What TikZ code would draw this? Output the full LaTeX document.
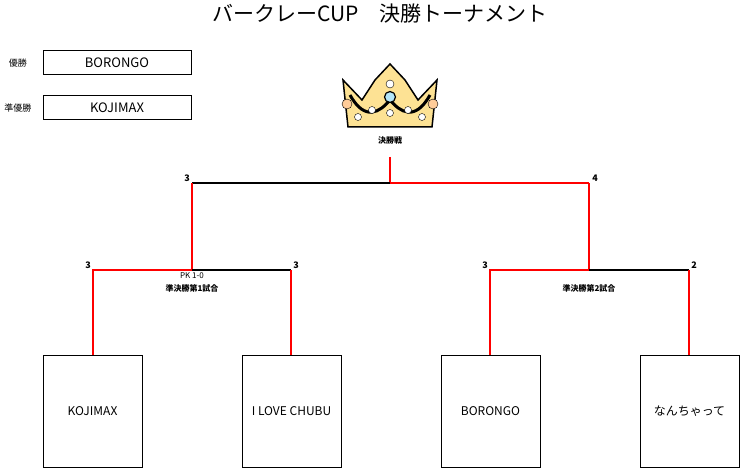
\documentclass[tikz,border=0pt]{standalone}
\usepackage{fontspec}
\setmainfont{Noto Sans CJK JP}
\begin{document}
\begin{tikzpicture}[x=1pt,y=-1pt,
  win/.style={draw=red,line width=1.2pt},
  lose/.style={draw=black,line width=1.2pt},
  team/.style={draw,line width=1pt,minimum width=99pt,minimum height=112pt,inner sep=0pt,font=\fontsize{12}{14}\selectfont},
  res/.style={draw,line width=1pt,minimum width=148pt,minimum height=24pt,inner sep=0pt,font=\fontsize{13}{15}\selectfont},
  sc/.style={font=\fontsize{9}{10}\selectfont\bfseries,inner sep=1pt,anchor=south},
  lab/.style={font=\fontsize{8}{9}\selectfont\bfseries,inner sep=0pt}]
\useasboundingbox (0,0) rectangle (753,468);
\node[font=\fontsize{21}{24}\selectfont] (title) at (380,14) {バークレーCUP\quad 決勝トーナメント};
\node[font=\fontsize{9}{10}\selectfont,inner sep=0pt] (l1) at (18,63) {優勝};
\node[font=\fontsize{9}{10}\selectfont,inner sep=0pt] (l2) at (18,108) {準優勝};
\node[res] (r1) at (117,63) {BORONGO};
\node[res] (r2) at (117,108) {KOJIMAX};
% crown
\begin{scope}
\draw[line width=1.5pt,fill=yellow!50!orange!40] (343,80) -- (362,100) -- (375,80) -- (390,64) -- (405,80) -- (418,100) -- (437,80) -- (432,127) -- (348,127) -- cycle;
\draw[line width=3pt] (350,95) .. controls (365,122) and (380,112) .. (390,100) .. controls (400,112) and (415,122) .. (430,95);
\foreach \p in {(347,104),(433,104)} \draw[fill=orange!40] \p circle (5);
\draw[fill=white] (390,84) circle (4);
\foreach \p in {(358,117),(372,110),(390,113),(408,110),(422,117)} \draw[fill=white] \p circle (3.5);
\draw[fill=cyan!30,line width=1.2pt] (390,97) circle (5.5);
\end{scope}
\node[lab] (fin) at (390,140) {決勝戦};
\coordinate (top) at (390,157);
\coordinate (fm) at (390,183);
\coordinate (fl) at (192,183);
\coordinate (fr) at (589,183);
\coordinate (s1m) at (192,270);
\coordinate (s1l) at (93,270);
\coordinate (s1r) at (291,270);
\coordinate (s2m) at (589,270);
\coordinate (s2l) at (490,270);
\coordinate (s2r) at (689,270);
\node[team] (t1) at (92.5,411) {KOJIMAX};
\node[team] (t2) at (291.5,411) {I LOVE CHUBU};
\node[team] (t3) at (490.5,411) {BORONGO};
\node[team] (t4) at (689.5,411) {なんちゃって};
\draw[win] (top) -- (fm);
\draw[lose] (fm) -- (fl);
\draw[win] (fm) -- (fr);
\draw[win] (fl) -- (s1m);
\draw[win] (fr) -- (s2m);
\draw[win] (s1m) -- (s1l) -- (t1.north -| s1l);
\draw[lose] (s1m) -- (s1r);
\draw[win] (s1r) -- (t2.north -| s1r);
\draw[win] (s2m) -- (s2l) -- (t3.north -| s2l);
\draw[lose] (s2m) -- (s2r);
\draw[win] (s2r) -- (t4.north -| s2r);
\node[sc] (a1) at (187,183) {3};
\node[sc] (a2) at (595,183) {4};
\node[sc] (b1) at (88,270) {3};
\node[sc] (b2) at (296,270) {3};
\node[sc] (b3) at (485,270) {3};
\node[sc] (b4) at (694,270) {2};
\node[font=\fontsize{8}{9}\selectfont,inner sep=0pt] (pk) at (192,276) {PK 1-0};
\node[lab] (m1) at (192,288) {準決勝第1試合};
\node[lab] (m2) at (589,288) {準決勝第2試合};
\end{tikzpicture}
\end{document}
